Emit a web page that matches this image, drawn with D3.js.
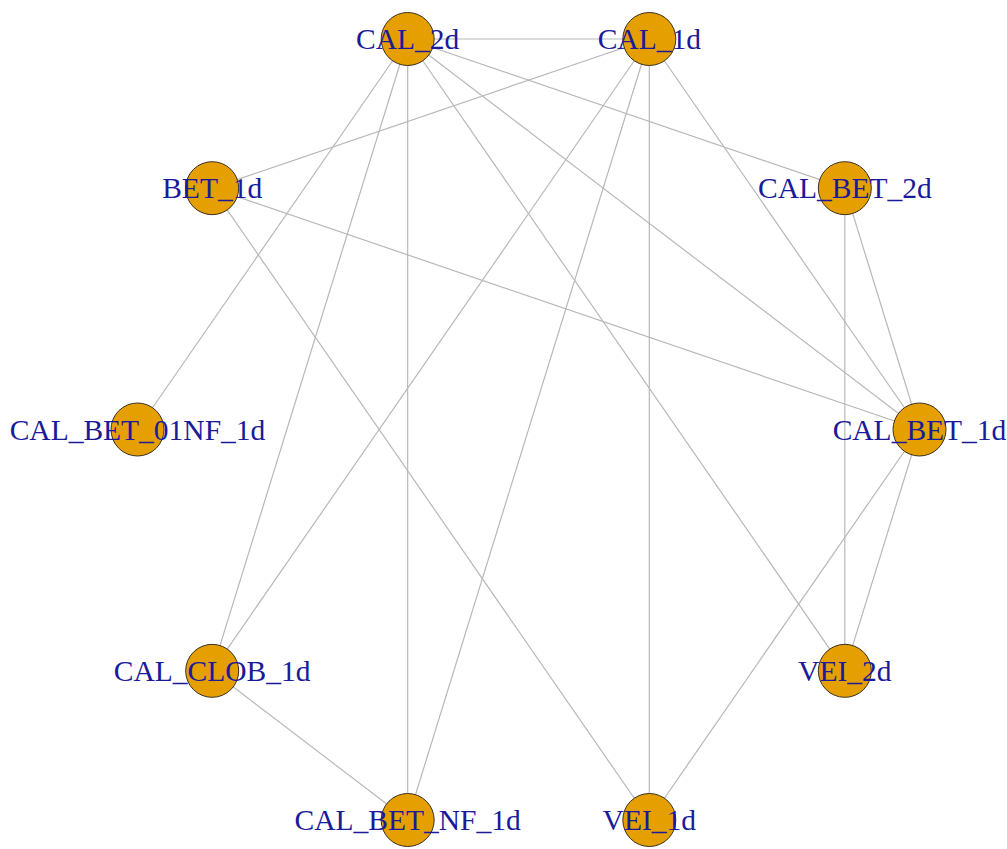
<!DOCTYPE html>
<html>
<head>
<meta charset="utf-8">
<script src="https://cdn.jsdelivr.net/npm/d3@7"></script>
<style>
  html, body { margin: 0; padding: 0; background: #ffffff; }
  svg { display: block; }
</style>
</head>
<body>
<svg id="net" width="1007" height="849"></svg>
<script>
// Vertices, in circle-layout order (counter-clockwise from the right)
const nodes = [
  "CAL_BET_1d", "CAL_BET_2d", "CAL_1d", "CAL_2d", "BET_1d",
  "CAL_BET_01NF_1d", "CAL_CLOB_1d", "CAL_BET_NF_1d", "VEI_1d", "VEI_2d"
];

// Undirected edges
const edges = [
  ["CAL_2d", "CAL_1d"],
  ["CAL_2d", "CAL_BET_2d"],
  ["CAL_2d", "CAL_BET_1d"],
  ["CAL_2d", "VEI_2d"],
  ["CAL_2d", "CAL_BET_NF_1d"],
  ["CAL_2d", "CAL_CLOB_1d"],
  ["CAL_2d", "CAL_BET_01NF_1d"],
  ["CAL_1d", "BET_1d"],
  ["CAL_1d", "CAL_CLOB_1d"],
  ["CAL_1d", "CAL_BET_NF_1d"],
  ["CAL_1d", "VEI_1d"],
  ["CAL_1d", "CAL_BET_1d"],
  ["BET_1d", "CAL_BET_1d"],
  ["BET_1d", "VEI_1d"],
  ["CAL_BET_2d", "CAL_BET_1d"],
  ["CAL_BET_2d", "VEI_2d"],
  ["CAL_BET_1d", "VEI_2d"],
  ["CAL_BET_1d", "VEI_1d"],
  ["CAL_CLOB_1d", "CAL_BET_NF_1d"]
];

const svg = d3.select("#net");

// Circle layout in unit coordinates
const layout = nodes.map((name, i) => {
  const a = 2 * Math.PI * i / nodes.length;
  return { name, ux: Math.cos(a), uy: Math.sin(a) };
});
const byName = new Map(layout.map(d => [d.name, d]));

const x = d3.scaleLinear()
  .domain(d3.extent(layout, d => d.ux))
  .range([137.5, 919.5]);
const y = d3.scaleLinear()
  .domain(d3.extent(layout, d => d.uy))
  .range([820, 39]);

layout.forEach(d => { d.x = x(d.ux); d.y = y(d.uy); });

// Edges
svg.append("g")
  .selectAll("line")
  .data(edges)
  .join("line")
  .attr("x1", d => byName.get(d[0]).x)
  .attr("y1", d => byName.get(d[0]).y)
  .attr("x2", d => byName.get(d[1]).x)
  .attr("y2", d => byName.get(d[1]).y)
  .attr("stroke", "#b8b8b8")
  .attr("stroke-width", 1.2);

// Vertices
svg.append("g")
  .selectAll("circle")
  .data(layout)
  .join("circle")
  .attr("cx", d => d.x)
  .attr("cy", d => d.y)
  .attr("r", 26.5)
  .attr("fill", "#E69F00")
  .attr("stroke", "#3a3020")
  .attr("stroke-width", 1);

// Vertex labels
svg.append("g")
  .selectAll("text")
  .data(layout)
  .join("text")
  .attr("x", d => d.x)
  .attr("y", d => d.y + 10)
  .attr("text-anchor", "middle")
  .attr("font-family", "'Liberation Serif', 'DejaVu Serif', serif")
  .attr("font-size", 29.5)
  .attr("fill", "#1a1a9a")
  .text(d => d.name);
</script>
</body>
</html>
